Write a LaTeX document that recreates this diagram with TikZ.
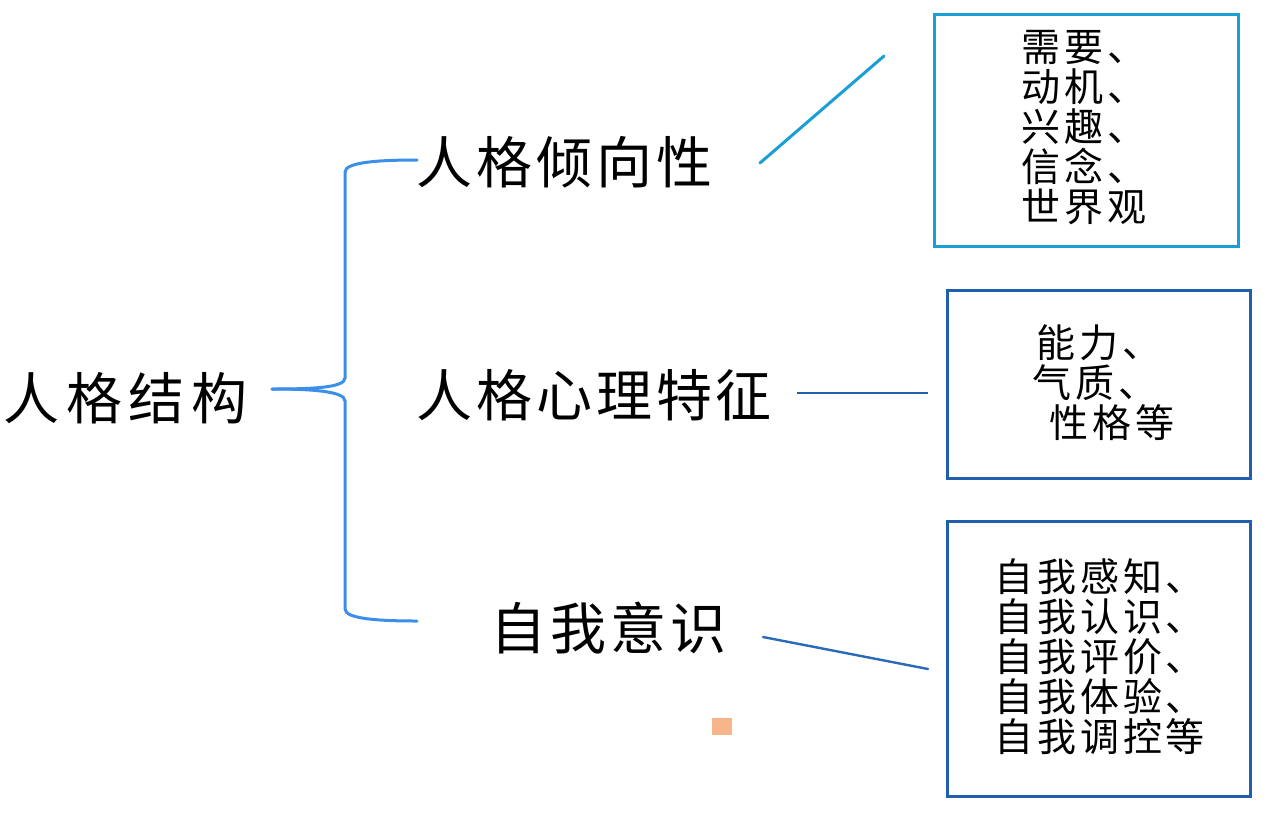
\documentclass[tikz,border=0pt]{standalone}
\usepackage{fontspec}
\newfontfamily\cjkbig[LetterSpace=7]{Noto Sans CJK SC}
\newfontfamily\cjkroot[LetterSpace=12]{Noto Sans CJK SC}
\newfontfamily\cjkbox[LetterSpace=10]{Noto Sans CJK SC}
\definecolor{bracec}{HTML}{3B8FE8}
\definecolor{cyanb}{HTML}{1A9ED6}
\definecolor{darkb}{HTML}{1F5FAE}
\definecolor{midb}{HTML}{2A6AB8}
\definecolor{orsq}{HTML}{F8B589}
\tikzset{
  lvl/.style={inner sep=0pt, anchor=west, font=\cjkbig\fontsize{28pt}{30pt}\selectfont},
  rootlbl/.style={inner sep=0pt, anchor=west, font=\cjkroot\fontsize{28pt}{30pt}\selectfont},
  boxtxt/.style={inner sep=0pt, anchor=west, align=left, font=\cjkbox\fontsize{19.5pt}{20pt}\selectfont},
  boxa/.style={draw=cyanb, line width=1.5pt, minimum width=152pt, minimum height=116pt, inner sep=0pt},
  boxb/.style={draw=darkb, line width=1.5pt, minimum width=151.5pt, inner sep=0pt},
  bracel/.style={draw=bracec, line width=1.5pt, line cap=round},
}
\begin{document}
\begin{tikzpicture}[x=0.5pt,y=-0.5pt]
\useasboundingbox (0,0) rectangle (1268,814);
% labels
\node[rootlbl] (root) at (3,398) {人格结构};
\node[lvl] (qx) at (416,162) {人格倾向性};
\node[lvl] (tz) at (416,395) {人格心理特征};
\node[lvl] (zw) at (490,628) {自我意识};
% boxes
\node[boxa] (b1) at (1086,130) {};
\node[boxb, minimum height=94pt] (b2) at (1098.5,384) {};
\node[boxb, minimum height=137.5pt] (b3) at (1098.5,658.5) {};
\node[boxtxt] (t1) at (1021,128) {需要、\\动机、\\兴趣、\\信念、\\世界观};
\node[boxtxt] (t2) at (1032,383) {\hspace{2pt}能力、\\气质、\\\hspace{8.5pt}性格等};
\node[boxtxt] (t3) at (994,657) {自我感知、\\自我认识、\\自我评价、\\自我体验、\\自我调控等};
% brace
\coordinate (tip) at (272,389);
\coordinate (btop) at (417,160);
\coordinate (bbot) at (417,621);
\draw[bracel] (tip) .. controls (310,389) and (345,388) .. (345,378) -- (345,172)
   .. controls (345,162) and (380,160) .. (btop);
\draw[bracel] (tip) .. controls (310,389) and (345,391) .. (345,401) -- (345,609)
   .. controls (345,619) and (380,621) .. (bbot);
% connectors
\coordinate (c1a) at (760,163);
\coordinate (c1b) at (884,56);
\coordinate (c2a) at (797,393);
\coordinate (c2b) at (928,393);
\coordinate (c3a) at (763,637);
\coordinate (c3b) at (928,669);
\draw[cyanb, line width=1.5pt, line cap=round] (c1a) -- (c1b);
\draw[darkb, line width=1.2pt] (c2a) -- (c2b);
\draw[midb, line width=1.2pt, line cap=round] (c3a) -- (c3b);
% small orange square
\fill[orsq] (712,718) rectangle (732,735);
\end{tikzpicture}
\end{document}
